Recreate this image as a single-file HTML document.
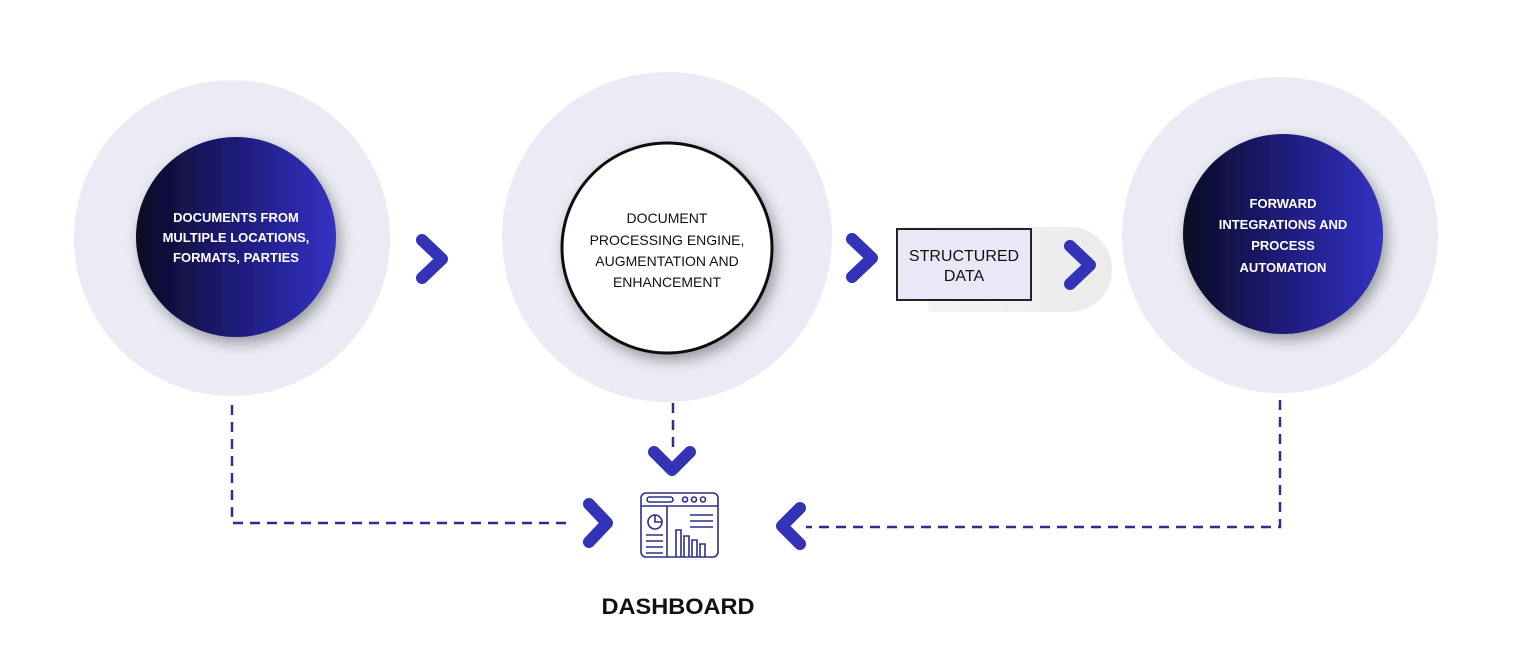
<!DOCTYPE html>
<html><head><meta charset="utf-8"><style>
html,body{margin:0;padding:0;background:#fff;}
svg{display:block;font-family:"Liberation Sans",sans-serif;}
</style></head><body>
<svg width="1520" height="660" viewBox="0 0 1520 660" xmlns="http://www.w3.org/2000/svg">
<defs>
<linearGradient id="dg" x1="0" y1="0" x2="1" y2="0">
<stop offset="0" stop-color="#0a0a22"/><stop offset="0.5" stop-color="#1e1c7a"/><stop offset="1" stop-color="#3431c4"/>
</linearGradient>
<filter id="sh" x="-30%" y="-30%" width="160%" height="160%"><feDropShadow dx="4" dy="6" stdDeviation="7" flood-color="#000" flood-opacity="0.35"/></filter>
<linearGradient id="pill" x1="0" y1="0" x2="1" y2="0"><stop offset="0" stop-color="#f6f6f6"/><stop offset="1" stop-color="#ebebeb"/></linearGradient>
</defs>
<circle cx="232" cy="238" r="158" fill="#ebebf5"/>
<circle cx="667" cy="237" r="165" fill="#ebebf5"/>
<circle cx="1280" cy="235" r="158" fill="#ebebf5"/>
<circle cx="236" cy="237" r="100" fill="url(#dg)" filter="url(#sh)"/>
<circle cx="667" cy="248" r="105" fill="#fff" stroke="#111" stroke-width="3" filter="url(#sh)"/>
<circle cx="1283" cy="234" r="100" fill="url(#dg)" filter="url(#sh)"/>
<g fill="#fff" font-weight="bold" font-size="13" text-anchor="middle">
<text x="236" y="222">DOCUMENTS FROM</text>
<text x="236" y="242">MULTIPLE LOCATIONS,</text>
<text x="236" y="262">FORMATS, PARTIES</text>
<text x="1283" y="208">FORWARD</text>
<text x="1283" y="229">INTEGRATIONS AND</text>
<text x="1283" y="250">PROCESS</text>
<text x="1283" y="272">AUTOMATION</text>
</g>
<g fill="#111" font-size="14" text-anchor="middle">
<text x="667" y="223">DOCUMENT</text>
<text x="667" y="245">PROCESSING ENGINE,</text>
<text x="667" y="266">AUGMENTATION AND</text>
<text x="667" y="287">ENHANCEMENT</text>
</g>
<path d="M900 227 H1070 A42 42 0 0 1 1112 269 A42 42 0 0 1 1070 312 H930 Z" fill="url(#pill)"/>
<rect x="897" y="229" width="134" height="71" fill="#e8e8f6" stroke="#222" stroke-width="2"/>
<g fill="#111" font-size="16" text-anchor="middle">
<text x="964" y="261">STRUCTURED</text>
<text x="964" y="281">DATA</text>
</g>
<g fill="none" stroke="#3333b8" stroke-width="12" stroke-linecap="round" stroke-linejoin="round">
<polyline points="422,240 442,259 422,278"/>
<polyline points="852,239 872,258 852,277"/>
<polyline points="1070,246 1090,265 1070,284"/>
<polyline points="589,504 607,523 589,542"/>
<polyline points="800,508 782,526 800,544"/>
<polyline points="654,452 672,470 690,452"/>
</g>
<g fill="none" stroke="#2e2e8a" stroke-width="2.5" stroke-dasharray="10,7">
<polyline points="232,405 232,523 572,523"/>
<line x1="673" y1="403" x2="673" y2="450"/>
<polyline points="1280,400 1280,527 806,527"/>
</g>
<g fill="none" stroke="#2e2e8a" stroke-width="1.6">
<rect x="641" y="493" width="77" height="64" rx="5"/>
<line x1="641" y1="506" x2="718" y2="506"/>
<rect x="647" y="497" width="26" height="5" rx="2.5"/>
<circle cx="685" cy="499.5" r="2.5"/><circle cx="694" cy="499.5" r="2.5"/><circle cx="703" cy="499.5" r="2.5"/>
<line x1="667" y1="506" x2="667" y2="557"/>
<circle cx="655" cy="522" r="7"/><path d="M655 515 V522 H662"/>
<line x1="646" y1="535" x2="663" y2="535"/><line x1="646" y1="541" x2="663" y2="541"/><line x1="646" y1="547" x2="663" y2="547"/><line x1="646" y1="553" x2="663" y2="553"/>
<line x1="690" y1="515" x2="713" y2="515"/><line x1="690" y1="521" x2="713" y2="521"/><line x1="690" y1="527" x2="713" y2="527"/>
<path d="M676 557 V530 H681 V557 M684 557 V536 H689 V557 M692 557 V540 H697 V557 M700 557 V544 H705 V557"/>
</g>
<text x="678" y="614" font-size="22" font-weight="bold" fill="#111" text-anchor="middle" textLength="153" lengthAdjust="spacingAndGlyphs">DASHBOARD</text>
</svg>
</body></html>
